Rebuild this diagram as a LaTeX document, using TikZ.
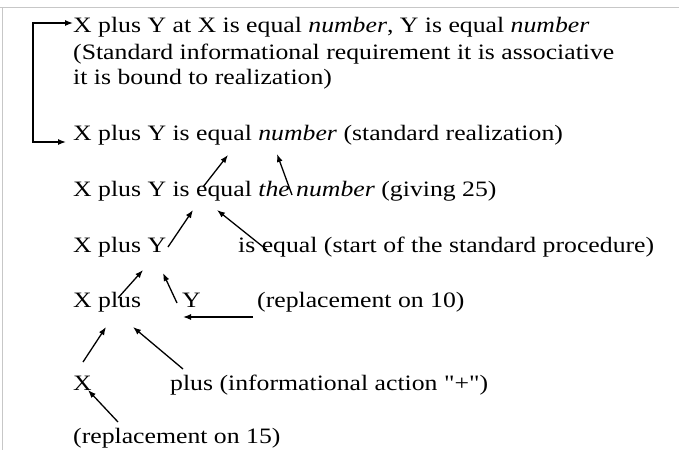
\documentclass[tikz,border=0pt]{standalone}
\usepackage{fontspec}
\setmainfont{Liberation Serif}[FakeStretch=1.17,Ligatures=TeXOff]
\usetikzlibrary{arrows.meta}
\begin{document}
\begin{tikzpicture}[x=1pt,y=-1pt,
  txt/.style={anchor=base west,inner sep=0pt,font=\fontsize{22}{25}\selectfont},
  arr/.style={line width=1.3pt,-{Latex[length=8pt,width=6pt]}},
  frame/.style={draw=black!22,line width=1pt}]
\useasboundingbox (0,0) rectangle (679,450);
\draw[frame] (0,7) -- (679,7);
\draw[frame] (2,7) -- (2,450);
% text lines
\node[txt] (l1) at (73,32) {X plus Y at X is equal \textit{number}, Y is equal \textit{number}};
\node[txt] (l2) at (73,59) {(Standard informational requirement it is associative};
\node[txt] (l3) at (73,84) {it is bound to realization)};
\node[txt] (l4) at (73,140) {X plus Y is equal \textit{number} (standard realization)};
\node[txt] (l5) at (73,196) {X plus Y is equal \textit{the number} (giving 25)};
\node[txt] (l6a) at (73,252) {X plus Y};
\node[txt] (l6b) at (238,252) {is equal (start of the standard procedure)};
\node[txt] (l7a) at (73,307) {X plus};
\node[txt] (l7b) at (182,307) {Y};
\node[txt] (l7c) at (257,307) {(replacement on 10)};
\node[txt] (l8a) at (73,390) {X};
\node[txt] (l8b) at (170,390) {plus (informational action "+")};
\node[txt] (l9) at (73,443) {(replacement on 15)};
% bracket
\coordinate (bt) at (33,23);
\coordinate (bb) at (33,142);
\draw[arr] (bb) -- (bt) -- (l1.west |- bt);
\draw[arr] (bt) -- (bb) -- (66,142);
% coordinates for arrows
\coordinate (a1s) at (203,187); \coordinate (a1e) at (228,155);
\coordinate (a2s) at (292,195); \coordinate (a2e) at (277,154);
\coordinate (a3s) at (168,247); \coordinate (a3e) at (193,210);
\coordinate (a4s) at (267,250); \coordinate (a4e) at (217,210);
\coordinate (a5s) at (118,298); \coordinate (a5e) at (143,270);
\coordinate (a6s) at (177,303); \coordinate (a6e) at (163,273);
\coordinate (a7s) at (253,317); \coordinate (a7e) at (183,317);
\coordinate (a8s) at (83,362);  \coordinate (a8e) at (106,327);
\coordinate (a9s) at (183,369); \coordinate (a9e) at (133,327);
\coordinate (a10s) at (118,422); \coordinate (a10e) at (88,390);
\foreach \i in {1,...,10} \draw[arr] (a\i s) -- (a\i e);
\end{tikzpicture}
\end{document}
